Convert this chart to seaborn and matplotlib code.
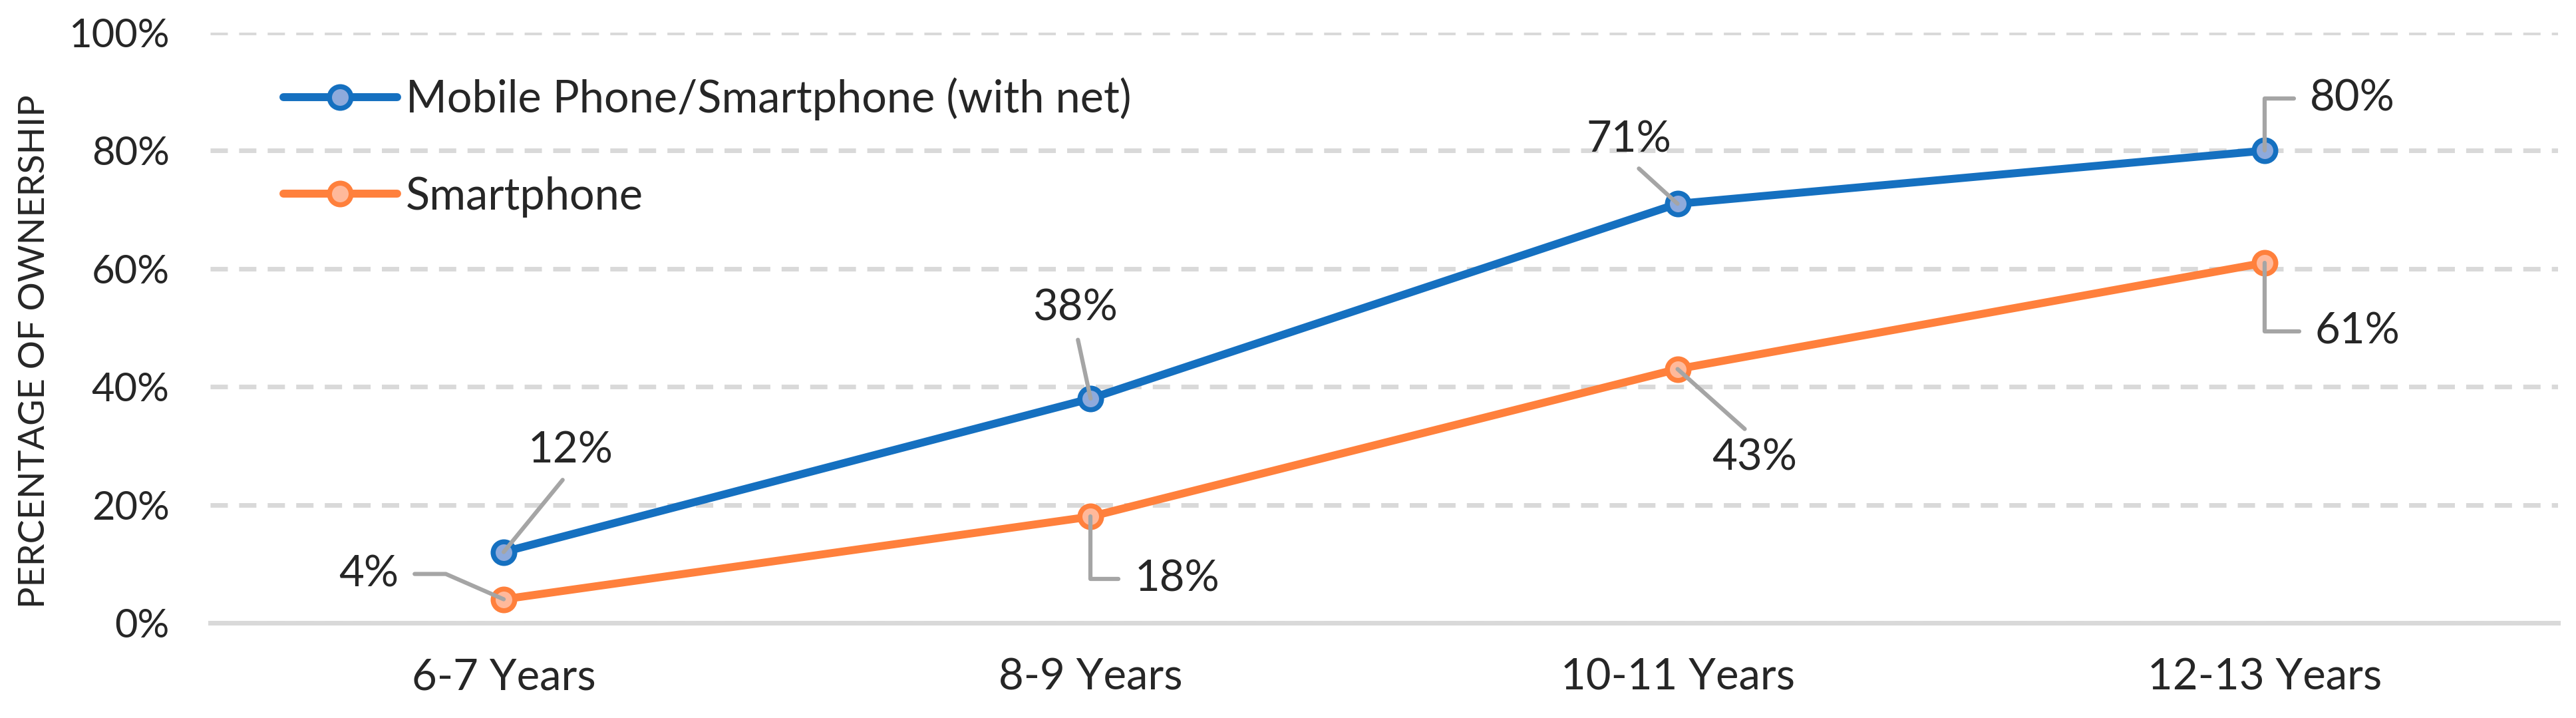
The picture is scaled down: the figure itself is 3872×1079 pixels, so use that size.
import matplotlib
matplotlib.use('Agg')
import matplotlib.pyplot as plt
from matplotlib.ticker import PercentFormatter
import pandas as pd
import seaborn as sns

# Data
age_groups = ['6-7 Years', '8-9 Years', '10-11 Years', '12-13 Years']
mobile_net = [0.12, 0.38, 0.71, 0.80]
smartphone = [0.04, 0.18, 0.43, 0.61]
series_names = ['Mobile Phone/Smartphone (with net)', 'Smartphone']
y_ticks = [0, 0.2, 0.4, 0.6, 0.8, 1.0]

# Label placement (pixel offsets from the point) and leader line shape
mobile_label_offsets = [(101, 153), (-23, 136), (-73, 96), (132, 78)]
smart_label_offsets = [(-203, 38), (130, -94), (116, -133), (140, -103)]
below = dict(relpos=(0.5, 0), connectionstyle='arc3', shrinkA=11)
above = dict(relpos=(0.5, 1), connectionstyle='arc3', shrinkA=11)
elbow_left = dict(relpos=(0, 0.5), connectionstyle='angle,angleA=0,angleB=90,rad=0', shrinkA=15)
elbow_right = dict(relpos=(1, 0.5), connectionstyle='angle,angleA=0,angleB=-23.6,rad=0', shrinkA=15)
mobile_leaders = [below, below, below, elbow_left]
smart_leaders = [elbow_right, elbow_left, above, elbow_left]

sns.set_style('white')
plt.rcParams['font.family'] = ['Lato', 'DejaVu Sans']
plt.rcParams['lines.scale_dashes'] = False

BLUE, BLUE_FILL = '#1570C0', '#8EAADC'
ORANGE, ORANGE_FILL = '#FF803C', '#FFB99B'
GRID = '#D9D9D9'
LEADER = '#A5A5A5'
FS = 47

df = pd.DataFrame({
    'age': age_groups * 2,
    'share': mobile_net + smartphone,
    'series': [series_names[0]] * len(age_groups) + [series_names[1]] * len(age_groups),
})

fig = plt.figure(figsize=(38.72, 10.79), dpi=100)
ax = fig.add_axes([0.0816, 0.1325, 0.9114, 0.8221])

for name, col, fill in zip(series_names, [BLUE, ORANGE], [BLUE_FILL, ORANGE_FILL]):
    sns.lineplot(data=df[df['series'] == name], x='age', y='share', ax=ax,
                 color=col, lw=8.6, marker='o', ms=23.4, mew=5.4, mec=col,
                 mfc=fill, label=name, sort=False, zorder=3)

# Data labels with leader lines
for vals, offsets, leaders in [(mobile_net, mobile_label_offsets, mobile_leaders),
                               (smartphone, smart_label_offsets, smart_leaders)]:
    for i, v in enumerate(vals):
        ax.annotate(f'{v:.0%}', xy=(i, v), xytext=offsets[i], textcoords='offset pixels',
                    ha='center', va='center', fontsize=FS, zorder=5,
                    arrowprops=dict(arrowstyle='-', color=LEADER, lw=4.5, shrinkB=0, **leaders[i]))

ax.set_xlim(-0.5, len(age_groups) - 0.5)
ax.set_ylim(0, 1)
ax.set_yticks(y_ticks)
ax.yaxis.set_major_formatter(PercentFormatter(1, decimals=0))
ax.yaxis.grid(True, color=GRID, lw=5, linestyle=(0, (18.7, 12.2)))
ax.xaxis.grid(False)
ax.set_axisbelow(True)
for s in ['left', 'right', 'top']:
    ax.spines[s].set_visible(False)
ax.spines['bottom'].set_color(GRID)
ax.spines['bottom'].set_linewidth(5)
ax.tick_params(length=0)
ax.tick_params(axis='y', pad=44, labelsize=43)
ax.tick_params(axis='x', pad=38, labelsize=FS)
ax.set_xlabel('')
ax.set_ylabel('PERCENTAGE OF OWNERSHIP', fontsize=39)
ax.yaxis.set_label_coords(-0.068, 0.46)

ax.legend(loc='upper left', bbox_to_anchor=(0.0312, 0.924), frameon=False, fontsize=48,
          handlelength=2.56, handletextpad=0.2, labelspacing=1.25, borderpad=0, borderaxespad=0)

fig.savefig('out.png', dpi=100)
